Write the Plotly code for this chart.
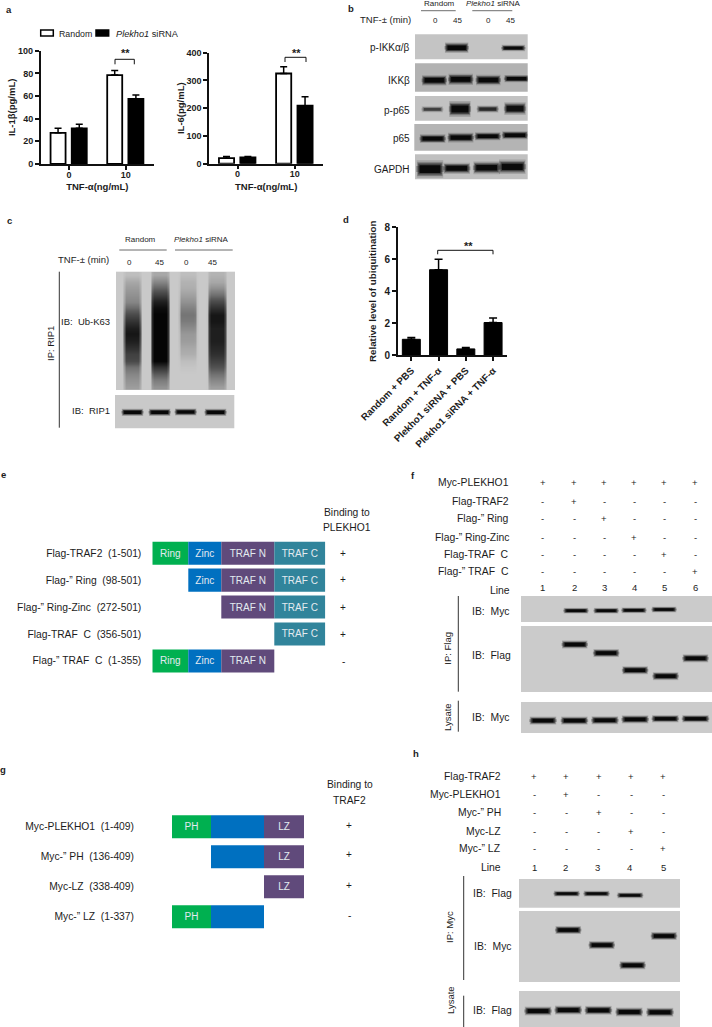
import numpy as np
import plotly.graph_objects as go

W, H = 712, 1027
TXT = '#1c1c1c'
FONT = 'Liberation Sans'

# --- panel a
dose_labels = ['0', '10']
il1b_random = [27.5, 78.5]
il1b_random_err = [4, 4]
il1b_sirna = [31.5, 57.5]
il1b_sirna_err = [3.5, 3.5]
il6_random = [20, 325]
il6_random_err = [6, 24]
il6_sirna = [23, 209]
il6_sirna_err = [3, 32]

# --- panel d
ubi_labels = ['Random + PBS', 'Random + TNF-α', 'Plekho1 siRNA + PBS', 'Plekho1 siRNA + TNF-α']
ubi_values = [1.0, 5.35, 0.4, 2.05]
ubi_err = [0.12, 0.65, 0.08, 0.28]

# --- panel e / g domain maps (widths)
e_rows = ['Flag-TRAF2\u00a0\u00a0(1-501)', 'Flag-\u201d\u00a0Ring\u00a0\u00a0(98-501)',
          'Flag-\u201d\u00a0Ring-Zinc\u00a0\u00a0(272-501)', 'Flag-TRAF\u00a0\u00a0C\u00a0\u00a0(356-501)',
          'Flag-\u201d\u00a0TRAF\u00a0\u00a0C\u00a0\u00a0(1-355)']
e_ring = [36, None, None, None, 36]
e_zinc = [33, 33, None, None, 33]
e_trafn = [53, 53, 53, None, 53]
e_trafc = [51, 51, 51, 51, None]
e_binding = ['+', '+', '+', '+', '-']

g_rows = ['Myc-PLEKHO1\u00a0\u00a0(1-409)', 'Myc-\u201d\u00a0PH\u00a0\u00a0(136-409)',
          'Myc-LZ\u00a0\u00a0(338-409)', 'Myc-\u201d\u00a0LZ\u00a0\u00a0(1-337)']
g_ph = [39, None, None, 39]
g_mid = [53, 53, None, 53]
g_lz = [40, 40, 40, None]
g_binding = ['+', '+', '+', '-']

# --- panel f / h tables
f_rows = ['Myc-PLEKHO1', 'Flag-TRAF2', 'Flag-\u201d\u00a0Ring', 'Flag-\u201d\u00a0Ring-Zinc',
          'Flag-TRAF\u00a0\u00a0C', 'Flag-\u201d\u00a0TRAF\u00a0\u00a0C']
f_marks = ['++++++', '-+----', '--+---', '---+--', '----+-', '-----+']
h_rows = ['Flag-TRAF2', 'Myc-PLEKHO1', 'Myc-\u201d\u00a0PH', 'Myc-LZ', 'Myc-\u201d\u00a0LZ']
h_marks = ['+++++', '-+---', '--+--', '---+-', '----+']

# --- blots: lane position, migration level (0 top, 1 bottom of the strip), band thickness, darkness
b_pikk = ([1.84, 3.94], [0.535, 0.55], [6.5, 4], [1, 0.95])
b_ikk = ([1.01, 1.99, 3.01, 4.06], [0.6, 0.565, 0.59, 0.54], [6.5, 7, 6.5, 4.5], [1, 1, 1, 1])
b_pp65 = ([0.94, 1.96, 2.99, 4.0], [0.54, 0.53, 0.53, 0.51], [4, 10, 4.5, 8], [0.45, 0.95, 0.6, 0.85])
b_p65 = ([0.95, 1.99, 2.99, 4.0], [0.55, 0.51, 0.46, 0.42], [5.5, 6, 5, 5], [1, 1, 1, 1])
b_gapdh = ([0.85, 1.84, 2.95, 3.9], [0.59, 0.56, 0.54, 0.5], [11, 7, 8, 9], [0.95, 0.95, 0.95, 0.95])
c_rip1 = ([1.0, 1.98, 2.92, 4.0], [0.52, 0.52, 0.51, 0.52], [4.5, 4.5, 4.5, 4.5], [1, 1, 1, 1])
f_myc = ([2.08, 3.07, 3.98, 4.97], [0.565, 0.565, 0.55, 0.52], [3.5, 3.5, 3.5, 3.5], [1, 1, 1, 1])
f_flag = ([2.04, 3.07, 4.02, 5.02, 6.0], [0.28, 0.41, 0.67, 0.76, 0.49], [5, 5, 5, 5, 5], [1, 1, 1, 1, 1])
f_lys = ([1.0, 2.03, 3.03, 4.02, 5.01, 6.0], [0.6, 0.6, 0.59, 0.56, 0.54, 0.54], [5, 5, 5, 5, 4.5, 4.5], [1, 1, 1, 1, 1, 1])
h_flag = ([1.94, 2.92, 4.02], [0.51, 0.51, 0.57], [3.5, 3.5, 3.5], [1, 1, 1])
h_myc = ([1.99, 3.09, 4.1, 5.13], [0.268, 0.48, 0.765, 0.352], [5, 5, 5, 5], [1, 1, 1, 1])
h_lys = ([1.0, 1.99, 2.98, 3.99, 5.0], [0.556, 0.53, 0.536, 0.583, 0.59], [5.5, 5.5, 5.5, 5.5, 5.5], [1, 1, 1, 1, 1])

# Ub-K63 smear, darkness down each lane of the strip
smear_lane1 = [.05, .15, .2, .25, .3, .42, .6, .72, .85, .9, .85, .75, .65, .6, .4, .3, .25, .2]
smear_lane2 = [.15, .3, .45, .65, .85, .95, 1, 1, 1, 1, 1, 1, 1, 1, .75, .5, .35, .25]
smear_lane3 = [.05, .1, .12, .18, .25, .32, .38, .35, .28, .22, .2, .15, .12, .05, .02, 0, 0, 0]
smear_lane4 = [.1, .15, .25, .4, .6, .75, .9, .9, .85, .85, .85, .8, .75, .65, .55, .4, .3, .2]

fig = go.Figure()
axis_count = 0
shapes = []
notes = []


def px(x):
    return x / W


def py(y):
    return 1 - y / H


def add_axes(left, top, right, bottom, xaxis, yaxis):
    global axis_count
    axis_count += 1
    n = '' if axis_count == 1 else axis_count
    xaxis.update(domain=[px(left), px(right)], anchor=f'y{n}', automargin=False)
    yaxis.update(domain=[py(bottom), py(top)], anchor=f'x{n}', automargin=False)
    fig.update_layout(**{f'xaxis{n}': xaxis, f'yaxis{n}': yaxis})
    return f'x{n}', f'y{n}'


def text(x, y, s, size=10, anchor='center', angle=0, bold=False):
    if bold:
        s = f'<b>{s}</b>'
    notes.append(dict(xref='paper', yref='paper', x=px(x), y=py(y), text=s, showarrow=False,
                      xanchor=anchor, yanchor='middle', textangle=angle, borderpad=0, borderwidth=0,
                      font=dict(size=size, color=TXT, family=FONT)))


def rule(x0, y0, x1, y1, color='#333333', width=1):
    shapes.append(dict(type='line', xref='paper', yref='paper', x0=px(x0), y0=py(y0),
                       x1=px(x1), y1=py(y1), line=dict(color=color, width=width)))


def bracket(x0, x1, top, foot):
    for pts in [(x0, foot, x0, top), (x0, top, x1, top), (x1, top, x1, foot)]:
        rule(*pts, color='#111111', width=1)


def chart_axes(tickvals=None, title=None, standoff=6, tickangle=None, size=9, title_size=9.5, label_shift=0):
    fnt = dict(size=size, color=TXT, family=FONT, weight='bold')
    ax = dict(showline=True, linecolor='#111111', linewidth=1.5, ticks='outside', ticklen=4,
              tickwidth=1.5, tickcolor='#111111', showgrid=False, zeroline=False, tickfont=fnt,
              ticklabelstandoff=label_shift)
    if tickvals is not None:
        ax.update(tickmode='array', tickvals=tickvals)
    if title:
        ax['title'] = dict(text=f'<b>{title}</b>', standoff=standoff,
                           font=dict(size=title_size, color=TXT, family=FONT))
    if tickangle is not None:
        ax['tickangle'] = tickangle
    return ax


def pair_bars(xr, yr, random, random_err, sirna, sirna_err):
    for vals, err, color, off in [(random, random_err, 'white', -0.326), (sirna, sirna_err, 'black', 0.048)]:
        fig.add_trace(go.Bar(x=dose_labels, y=vals, width=0.265, offset=off, xaxis=xr, yaxis=yr,
                             marker=dict(color=color, line=dict(color='black', width=1.8)),
                             error_y=dict(type='data', array=err, symmetric=False,
                                          arrayminus=[0] * len(err), color='black', thickness=1.5, width=3.5),
                             showlegend=False))


# panel a charts
xr, yr = add_axes(40.7, 50.7, 154, 164, chart_axes(title='TNF-α(ng/mL)', standoff=5, label_shift=-3),
                  chart_axes([0, 20, 40, 60, 80, 100], title='IL-1β(pg/mL)', standoff=1))
fig.update_layout(yaxis=dict(range=[0, 100]), xaxis=dict(range=[-0.5, 1.5], type='category'))
pair_bars(xr, yr, il1b_random, il1b_random_err, il1b_sirna, il1b_sirna_err)

xr, yr = add_axes(209, 52.7, 323.3, 163.7, chart_axes(title='TNF-α(ng/mL)', standoff=5, label_shift=-3),
                  chart_axes([0, 100, 200, 300, 400], title='IL-6(pg/mL)', standoff=0))
fig.update_layout(yaxis2=dict(range=[0, 400]), xaxis2=dict(range=[-0.5, 1.5], type='category'))
pair_bars(xr, yr, il6_random, il6_random_err, il6_sirna, il6_sirna_err)

bracket(115, 134.3, 59.3, 64.3)
bracket(285, 306, 57.3, 62)
text(126, 52.5, '**', 11, bold=True)
text(296, 52.5, '**', 11, bold=True)

# legend of panel a
for x0, x1, col in [(40.7, 53.3, 'white'), (96, 108.7, 'black')]:
    shapes.append(dict(type='rect', xref='paper', yref='paper', x0=px(x0), x1=px(x1), y0=py(30), y1=py(36),
                       fillcolor=col, line=dict(color='black', width=1.5)))
text(59.3, 33.7, 'Random', 8.8, 'left')
text(115.7, 33.7, '<i>Plekho1</i> siRNA', 9.2, 'left')

# panel d chart
ax_x = chart_axes(tickangle=-45, size=9.8)
ax_x.update(range=[-0.5, 3.5], type='category')
xr, yr = add_axes(397.7, 227.3, 506.7, 355.3, ax_x,
                  chart_axes([0, 2, 4, 6, 8], title='Relative level of ubiquitination', standoff=6, size=10, title_size=9.8))
fig.update_layout(yaxis3=dict(range=[0, 8]))
fig.add_trace(go.Bar(x=ubi_labels, y=ubi_values, width=0.66, xaxis=xr, yaxis=yr, showlegend=False,
                     marker=dict(color='black', line=dict(color='black', width=1)),
                     error_y=dict(type='data', array=ubi_err, symmetric=False, arrayminus=[0, 0, 0, 0],
                                  color='black', thickness=1.5, width=4)))
bracket(437.7, 493, 250.3, 254.3)
text(468.3, 246, '**', 11, bold=True)

# domain maps
GREEN, BLUE, PURPLE, TEAL = '#00b050', '#0070c0', '#604a7b', '#31849b'
xr, yr = add_axes(152.3, 539.75, 325.3, 674.35, dict(visible=False, range=[0, 173]),
                  dict(type='category', categoryorder='array', categoryarray=e_rows, autorange='reversed',
                       showgrid=False, zeroline=False, showline=False, ticks='', ticklabelstandoff=10,
                       tickfont=dict(size=10.3, color=TXT, family=FONT)))
e_starts = [0, 36, 69, 122]
for part, start, color, label in zip([e_ring, e_zinc, e_trafn, e_trafc], e_starts,
                                     [GREEN, BLUE, PURPLE, TEAL], ['Ring', 'Zinc', 'TRAF N', 'TRAF C']):
    fig.add_trace(go.Bar(y=e_rows, x=part, base=start, orientation='h', width=0.855, offset=-0.4275, xaxis=xr, yaxis=yr,
                         marker=dict(color=color, line=dict(width=0)), showlegend=False,
                         text=[label if p else None for p in part], textposition='inside',
                         insidetextanchor='middle', textangle=0, constraintext='none',
                         insidetextfont=dict(size=10, color='#e3eaf0', family=FONT)))

xr, yr = add_axes(172, 811.8, 304.7, 931.8, dict(visible=False, range=[0, 132.7]),
                  dict(type='category', categoryorder='array', categoryarray=g_rows, autorange='reversed',
                       showgrid=False, zeroline=False, showline=False, ticks='', ticklabelstandoff=37,
                       tickfont=dict(size=10.3, color=TXT, family=FONT)))
g_starts = [0, 39, 92]
for part, start, color, label in zip([g_ph, g_mid, g_lz], g_starts, [GREEN, BLUE, PURPLE], ['PH', '', 'LZ']):
    fig.add_trace(go.Bar(y=g_rows, x=part, base=start, orientation='h', width=0.77, offset=-0.385, xaxis=xr, yaxis=yr,
                         marker=dict(color=color, line=dict(width=0)), showlegend=False,
                         text=[label if p else None for p in part], textposition='inside',
                         insidetextanchor='middle', textangle=0, constraintext='none',
                         insidetextfont=dict(size=10, color='#e3eaf0', family=FONT)))

text(346.7, 512, 'Binding to', 10.3)
text(346.7, 527.3, 'PLEKHO1', 10.3)
for y, m in zip([553, 579.5, 607, 634, 661], e_binding):
    text(343.3, y, m, 10)
text(349.7, 784.3, 'Binding to', 10.3)
text(349.7, 800, 'TRAF2', 10.3)
for y, m in zip([825.7, 854.7, 885, 915], g_binding):
    text(349.3, y, m, 10)


# blots
def add_blot(box, bg, lane1_px, spacing, band, half):
    left, top, right, bottom = box
    shapes.append(dict(type='rect', xref='paper', yref='paper', x0=px(left), x1=px(right), y0=py(top), y1=py(bottom),
                       fillcolor=bg, line=dict(width=0), layer='below'))
    xrange_ = [1 + (left - lane1_px) / spacing, 1 + (right - lane1_px) / spacing]
    xr, yr = add_axes(left, top, right, bottom, dict(visible=False, range=xrange_, fixedrange=True),
                      dict(visible=False, range=[1, 0], fixedrange=True))
    lanes, levels, thick, dark = band
    half_lane = half / spacing
    for lane, level, t, d in zip(lanes, levels, thick, dark):
        # soft halo first, dense core last, so a band fades at its edges and ends
        for length, w, a in [(1.06, 0.55, 0.25), (1.02, 1.6, 0.16), (0.97, 1.25, 0.3), (0.9, 1.0, 0.5), (0.8, 0.7, 1.0)]:
            fig.add_trace(go.Scatter(x=[lane - half_lane * length, lane + half_lane * length], y=[level, level],
                                     mode='lines', xaxis=xr, yaxis=yr, showlegend=False, hoverinfo='skip',
                                     line=dict(color=f'rgba(8,8,8,{a * d:.2f})', width=t * w)))
    return xr, yr


add_blot((415, 34.3, 527.7, 59.3), '#c4c4c4', 434, 27, b_pikk, 11.5)
add_blot((415, 63.3, 527.7, 91.7), '#b2b2b2', 434, 27, b_ikk, 12)
add_blot((415, 96, 527.7, 120.7), '#c2c2c2', 434, 27, b_pp65, 10.5)
add_blot((414.3, 124, 527.7, 150.7), '#b4b4b4', 434, 27, b_p65, 12.5)
add_blot((415, 154.3, 527.7, 179.3), '#c0c0c0', 434, 27, b_gapdh, 13)

add_blot((115, 395, 234.3, 428.3), '#c9c9c9', 132.5, 27.7, c_rip1, 10.5)

add_blot((521, 596, 712, 622), '#cbcbcb', 543, 30.5, f_myc, 12)
add_blot((521, 626, 712, 692), '#cbcbcb', 543, 30.5, f_flag, 12.5)
add_blot((521, 702, 712, 733), '#cbcbcb', 543, 30.5, f_lys, 13)

add_blot((519, 879, 680, 907.7), '#cbcbcb', 538, 30.5, h_flag, 12.5)
add_blot((519, 911, 680, 982), '#cbcbcb', 538, 30.5, h_myc, 12.5)
add_blot((519, 991, 680, 1027), '#cbcbcb', 538, 30.5, h_lys, 13)

# Ub-K63 smear
smear_cols = np.linspace(116, 235, 60)
smear_z = np.zeros((18, 60))
for profile, centre, half in [(smear_lane1, 132.3, 9.5), (smear_lane2, 160.3, 10),
                              (smear_lane3, 187.5, 9.5), (smear_lane4, 216.7, 10)]:
    edge = np.clip((half - np.abs(smear_cols - centre)) / 2.5, 0, 1)
    smear_z += np.outer(profile, edge)
shapes.append(dict(type='rect', xref='paper', yref='paper', x0=px(116), x1=px(235), y0=py(271.7), y1=py(390),
                   fillcolor='#c9c9c9', line=dict(width=0), layer='below'))
xr, yr = add_axes(116, 271.7, 235, 390, dict(visible=False, range=[116, 235]), dict(visible=False, range=[18, 0]))
fig.add_trace(go.Heatmap(z=smear_z, x=smear_cols, y=np.arange(18) + 0.5, xaxis=xr, yaxis=yr, zmin=0, zmax=1,
                         zsmooth='best', showscale=False, hoverinfo='skip',
                         colorscale=[[0, '#c9c9c9'], [0.5, '#5a5a5a'], [1, '#050505']]))

# panel b labels
text(439.3, 3.6, 'Random', 8)
text(493.3, 3.6, '<i>Plekho1</i> siRNA', 8)
rule(421, 10.7, 455.7, 10.7, '#8a8a8a', 1.2)
rule(472.3, 10.7, 512.3, 10.7, '#8a8a8a', 1.2)
text(411, 20, 'TNF-±\u00a0(min)', 9.5, 'right')
for x, s in zip([435, 457.7, 488.3, 510.7], ['0', '45', '0', '45']):
    text(x, 21, s, 8)
for y, s in zip([48, 80, 110, 138, 169], ['p-IKKα/β', 'IKKβ', 'p-p65', 'p65', 'GAPDH']):
    text(410, y, s, 10, 'right')

# panel c labels
text(140, 239.7, 'Random', 8)
text(201, 239.7, '<i>Plekho1</i> siRNA', 8)
rule(119.3, 250, 166.7, 250, '#444444', 0.8)
rule(175, 250, 232.7, 250, '#444444', 0.8)
text(109.3, 259.5, 'TNF-±\u00a0(min)', 9.5, 'right')
for x, s in zip([129, 159.3, 186, 212.7], ['0', '45', '0', '45']):
    text(x, 262.3, s, 8)
text(109.5, 322, 'IB:\u00a0\u00a0Ub-K63', 9.5, 'right')
text(110, 410.7, 'IB:\u00a0\u00a0RIP1', 9.5, 'right')
text(50, 344, 'IP: RIP1', 9.5, angle=-90)
rule(59.3, 271.7, 59.3, 427.7)

# panel f labels
f_y = [482.7, 501, 518.7, 537, 554.3, 571]
f_x = [542.7, 574.3, 604.3, 634.3, 664, 695.3]
for y, label, marks in zip(f_y, f_rows, f_marks):
    text(509.3, y, label, 10.4, 'right')
    for x, m in zip(f_x, marks):
        text(x, y, m, 9.5)
text(510, 590, 'Line', 10.4, 'right')
for x, s in zip(f_x, ['1', '2', '3', '4', '5', '6']):
    text(x, 587.7, s, 9.5)
text(510, 611, 'IB:\u00a0\u00a0Myc', 10.4, 'right')
text(510.5, 655, 'IB:\u00a0\u00a0Flag', 10.4, 'right')
text(510, 717.3, 'IB:\u00a0\u00a0Myc', 10.4, 'right')
text(446.7, 648, 'IP: Flag', 9.5, angle=-90)
text(447.3, 716.7, 'Lysate', 9.5, angle=-90)
rule(458.3, 596, 458.3, 691.7)
rule(458.3, 700.7, 458.3, 731.7)

# panel h labels
h_y = [776.7, 794.7, 812, 831, 848.3]
h_x = [534.3, 566, 598.7, 631, 663]
for y, label, marks in zip(h_y, h_rows, h_marks):
    text(501, y, label, 10.4, 'right')
    for x, m in zip(h_x, marks):
        text(x, y, m, 9.5)
text(501, 867, 'Line', 10.4, 'right')
for x, s in zip([534.3, 565, 597.3, 629.3, 663], ['1', '2', '3', '4', '5']):
    text(x, 867.5, s, 9.5)
text(512, 893, 'IB:\u00a0\u00a0Flag', 10.4, 'right')
text(511.5, 946.7, 'IB:\u00a0\u00a0Myc', 10.4, 'right')
text(511.5, 1010.7, 'IB:\u00a0\u00a0Flag', 10.4, 'right')
text(449.3, 926.7, 'IP: Myc', 9.5, angle=-90)
text(450, 1000, 'Lysate', 9.5, angle=-90)
rule(463.7, 876, 463.7, 980)
rule(463.7, 995.7, 463.7, 1027)

# panel letters
for x, y, s in [(9.3, 10, 'a'), (351, 8.5, 'b'), (9, 220, 'c'), (346, 219, 'd'),
                (3, 474.7, 'e'), (412.5, 475, 'f'), (3, 769, 'g'), (415.5, 753.5, 'h')]:
    text(x, y, s, 9.5, bold=True)

fig.update_layout(width=W, height=H, margin=dict(l=0, r=0, t=0, b=0, autoexpand=False), autosize=False,
                  paper_bgcolor='white', plot_bgcolor='rgba(0,0,0,0)', barmode='overlay',
                  showlegend=False, shapes=shapes, annotations=notes,
                  font=dict(family=FONT, color=TXT))

# the page's default body margin would push the 712 wide figure out of the window
fig.write_html("out.html", config={'displayModeBar': False},
               post_script="document.body.style.margin = '0';")
